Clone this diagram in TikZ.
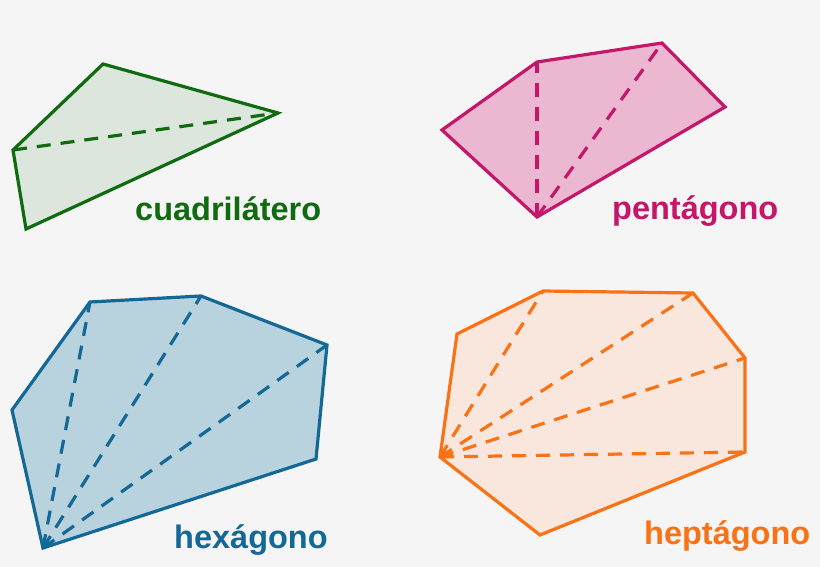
\documentclass[tikz,border=0pt]{standalone}
\usepackage{fontspec}
\setmainfont{Liberation Sans}
\definecolor{bgc}{HTML}{F5F5F5}
\definecolor{gq}{HTML}{106A10}
\definecolor{gqf}{HTML}{DCE6DC}
\definecolor{mp}{HTML}{C4176A}
\definecolor{mpf}{HTML}{ECB8D1}
\definecolor{bh}{HTML}{136896}
\definecolor{bhf}{HTML}{B9D3DE}
\definecolor{oh}{HTML}{FA7216}
\definecolor{ohf}{HTML}{F9E6DC}
\tikzset{
  poly/.style={line width=3.2pt, line join=miter},
  diag/.style={line width=3.2pt, dash pattern=on 14pt off 10pt},
  lbl/.style={anchor=base west, inner sep=0pt, font=\fontsize{32.5}{38}\selectfont\bfseries}
}
\begin{document}
\begin{tikzpicture}[x=1pt,y=-1pt]
\fill[bgc] (0,0) rectangle (820,567);
\useasboundingbox (0,0) rectangle (820,567);
% quadrilateral
\coordinate (q1) at (103,64);
\coordinate (q2) at (278,113);
\coordinate (q3) at (26,229);
\coordinate (q4) at (13,150);
\filldraw[poly, draw=gq, fill=gqf] (q1) -- (q2) -- (q3) -- (q4) -- cycle;
\draw[diag, gq] (q4) -- (q2);
\node[lbl, text=gq] (lq) at (135,221) {cuadrilátero};
% pentagon
\coordinate (p1) at (442,130);
\coordinate (p2) at (537,62);
\coordinate (p3) at (662,43);
\coordinate (p4) at (725,107);
\coordinate (p5) at (537,217);
\filldraw[poly, draw=mp, fill=mpf] (p1) -- (p2) -- (p3) -- (p4) -- (p5) -- cycle;
\draw[diag, mp] (p5) -- (p2);
\draw[diag, mp] (p5) -- (p3);
\node[lbl, text=mp] (lp) at (612,219) {pentágono};
% hexagon
\coordinate (h1) at (12,410);
\coordinate (h2) at (90,302);
\coordinate (h3) at (201,296);
\coordinate (h4) at (327,345);
\coordinate (h5) at (316,459);
\coordinate (h6) at (43,548);
\filldraw[poly, draw=bh, fill=bhf] (h1) -- (h2) -- (h3) -- (h4) -- (h5) -- (h6) -- cycle;
\draw[diag, bh] (h6) -- (h2);
\draw[diag, bh] (h6) -- (h3);
\draw[diag, bh] (h6) -- (h4);
\node[lbl, text=bh] (lh) at (174,548) {hexágono};
% heptagon
\coordinate (e1) at (457,334);
\coordinate (e2) at (543,291);
\coordinate (e3) at (693,293);
\coordinate (e4) at (745,358);
\coordinate (e5) at (745,452);
\coordinate (e6) at (540,535);
\coordinate (e7) at (440,457);
\filldraw[poly, draw=oh, fill=ohf] (e1) -- (e2) -- (e3) -- (e4) -- (e5) -- (e6) -- (e7) -- cycle;
\draw[diag, oh] (e7) -- (e2);
\draw[diag, oh] (e7) -- (e3);
\draw[diag, oh] (e7) -- (e4);
\draw[diag, oh] (e7) -- (e5);
\node[lbl, text=oh] (le) at (644,544) {heptágono};
\end{tikzpicture}
\end{document}
